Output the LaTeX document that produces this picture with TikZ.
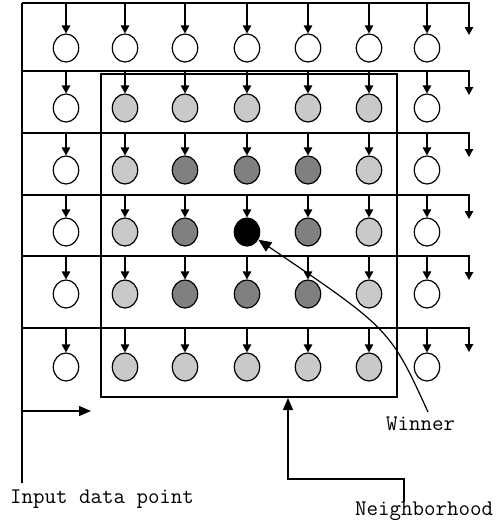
\documentclass[tikz,border=0pt]{standalone}
\usepackage{fontspec}
\usetikzlibrary{arrows.meta,shapes.geometric}

\definecolor{lightcell}{gray}{0.79}
\definecolor{darkcell}{gray}{0.5}

\tikzset{
  wire/.style={line width=1.2pt},
  drop/.style={wire,-{Triangle[length=8pt,width=8.5pt]}},
  bigarrow/.style={wire,-{Triangle[length=12pt,width=10pt]}},
  unit/.style={ellipse,draw,line width=1.2pt,minimum width=25.4pt,minimum height=28pt,inner sep=0pt},
  fw/.style={fill=white},
  fl/.style={fill=lightcell},
  fd/.style={fill=darkcell},
  fb/.style={fill=black},
  hood/.style={draw,line width=2pt,inner sep=0pt,minimum width=296pt,minimum height=323pt},
  caption/.style={font=\ttfamily\fontsize{22.3}{24}\selectfont,inner sep=0pt,anchor=base west}
}

\begin{document}
\begin{tikzpicture}[x=1pt,y=-1pt]
\useasboundingbox (0,0) rectangle (496,523);

% neighbourhood frame
\node[hood] (nbhd) at (249,235.5) {};

% input bus
\coordinate (bus-top) at (22,3);
\coordinate (bus-bot) at (22,483);
\draw[wire] (bus-top) -- (bus-bot);

% rows of units: row / line y / centre y / fills
\foreach \r/\ly/\cy/\fills in {
  1/3/48/{fw,fw,fw,fw,fw,fw,fw},
  2/71/108/{fw,fl,fl,fl,fl,fl,fw},
  3/133/170/{fw,fl,fd,fd,fd,fl,fw},
  4/195/232/{fw,fl,fd,fb,fd,fl,fw},
  5/256/294/{fw,fl,fd,fd,fd,fl,fw},
  6/328/367/{fw,fl,fl,fl,fl,fl,fw}}{
  \pgfmathsetmacro\drop{\r==1 ? 32 : 24}
  \coordinate (s-\r) at (22,\ly);
  \coordinate (e-\r) at (469,\ly);
  \coordinate (ee-\r) at (469,\ly+\drop);
  \draw[drop] (s-\r) -- (e-\r) -- (ee-\r);
  \foreach \f [count=\c] in \fills {
    \pgfmathsetmacro\x{{66,125,185,247,308,369,427}[\c-1]}
    \node[unit,\f] (c-\r-\c) at (\x,\cy) {};
    \coordinate (t-\r-\c) at (\x,\ly);
    \draw[drop] (t-\r-\c) -- (c-\r-\c);
  }
}

% input arrow
\coordinate (in-a) at (22,411);
\coordinate (in-b) at (91,411);
\draw[bigarrow] (in-a) -- (in-b);

% winner pointer
\coordinate (win-tail) at (428,412);
\draw[wire,-{Triangle[length=13pt,width=11pt]}] (win-tail) .. controls (390,329) .. (c-4-4);

% neighbourhood pointer
\coordinate (nb-tail) at (404,502);
\coordinate (nb-knee) at (288,479);
\draw[bigarrow] (nb-tail) |- (nb-knee) -- (nb-knee |- nbhd.south);

% captions
\node[caption] (lbl-input) at (10,503) {Input data point};
\node[caption] (lbl-win) at (386,430) {Winner};
\node[caption] (lbl-nb) at (355,515) {Neighborhood};
\end{tikzpicture}
\end{document}
